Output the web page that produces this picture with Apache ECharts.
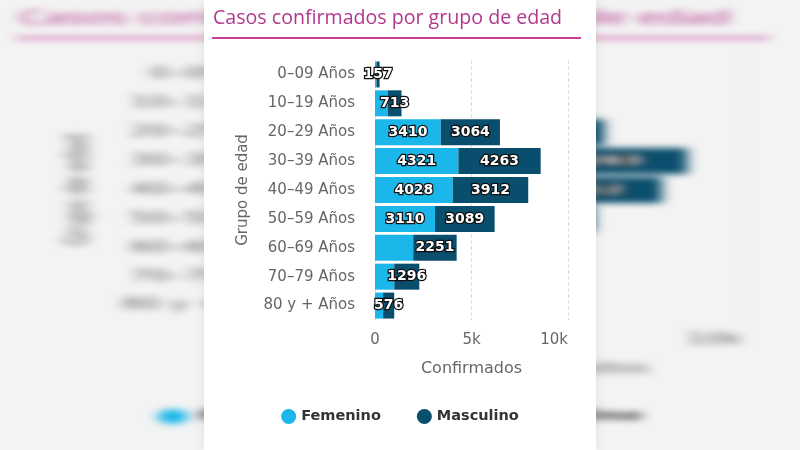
<!DOCTYPE html>
<html>
<head>
<meta charset="utf-8">
<script src="https://cdn.jsdelivr.net/npm/echarts@6/dist/echarts.min.js"></script>
<style>
  html, body { margin: 0; padding: 0; width: 800px; height: 450px; overflow: hidden; background: #f3f3f3; }
  #bg { position: absolute; left: 0; top: 0; width: 392px; height: 450px; transform-origin: 0 0; transform: scaleX(2.0408); filter: blur(3px); opacity: 1; }
  #fg { position: absolute; left: 204px; top: 0; width: 392px; height: 450px; background: #fff; box-shadow: 0 0 12px rgba(0,0,0,0.08); }
</style>
</head>
<body>
<div id="bg"></div>
<div id="fg"></div>
<script>
const titleText = 'Casos confirmados por grupo de edad';
const categories = ['0–09 Años', '10–19 Años', '20–29 Años', '30–39 Años', '40–49 Años', '50–59 Años', '60–69 Años', '70–79 Años', '80 y + Años'];
const femenino = [80, 660, 3410, 4321, 4028, 3110, 1980, 1000, 420];
const masculino = [157, 713, 3064, 4263, 3912, 3089, 2251, 1296, 576];
const seriesNames = ['Femenino', 'Masculino'];
const xTicks = { 0: '0', 5000: '5k', 10000: '10k' };

const FONT = '"Open Sans", sans-serif';
const DV = '"DejaVu Sans", sans-serif';
const labelStyle = {
  show: true, position: 'inside', color: '#fff', fontWeight: 'bold', fontSize: 14,
  fontFamily: DV, textBorderColor: '#111', textBorderWidth: 2.5
};

function makeOption() {
  return {
    animation: false,
    backgroundColor: 'transparent',
    title: {
      text: titleText, left: 4, top: 3,
      textStyle: { color: '#b3378c', fontSize: 19.6, fontWeight: 'normal', fontFamily: FONT }
    },
    graphic: [{
      type: 'line', shape: { x1: 8, y1: 38, x2: 377, y2: 38 },
      style: { stroke: '#c6409a', lineWidth: 2 }
    }],
    legend: {
      bottom: 21, left: 'center', icon: 'circle', itemWidth: 15, itemHeight: 15, itemGap: 36,
      textStyle: { color: '#333', fontSize: 14.5, fontWeight: 'bold', fontFamily: DV }
    },
    grid: { left: 171, right: 28, top: 60, bottom: 130 },
    xAxis: {
      type: 'value', min: 0, max: 10000, interval: 5000,
      name: 'Confirmados', nameLocation: 'middle', nameGap: 41,
      nameTextStyle: { color: '#666', fontSize: 16, fontFamily: DV },
      axisLine: { show: false }, axisTick: { show: false },
      axisLabel: { color: '#666', fontSize: 15, fontFamily: DV, margin: 13, alignMaxLabel: 'right',
        formatter: v => xTicks[v] !== undefined ? xTicks[v] : String(v) },
      splitLine: { show: true, lineStyle: { color: '#e0e0e0', type: 'dashed' } }
    },
    yAxis: {
      type: 'category', data: categories, inverse: true,
      name: 'Grupo de edad', nameLocation: 'middle', nameGap: 124, nameRotate: 90,
      nameTextStyle: { color: '#666', fontSize: 15, fontFamily: DV },
      axisLine: { show: false }, axisTick: { show: false },
      axisLabel: { color: '#666', fontSize: 15, fontFamily: DV, margin: 20 }
    },
    series: [
      {
        name: seriesNames[0], type: 'bar', stack: 'total', data: femenino, barCategoryGap: '10%',
        itemStyle: { color: '#1cb7ea' },
        label: Object.assign({}, labelStyle, { formatter: p => p.value >= 2500 ? String(p.value) : '' })
      },
      {
        name: seriesNames[1], type: 'bar', stack: 'total', data: masculino, barCategoryGap: '10%',
        itemStyle: { color: '#0a4e6d' },
        label: Object.assign({}, labelStyle, { formatter: p => String(p.value) })
      }
    ]
  };
}

const bg = echarts.init(document.getElementById('bg'), null, { renderer: 'canvas' });
bg.setOption(makeOption());
const fg = echarts.init(document.getElementById('fg'), null, { renderer: 'canvas' });
fg.setOption(makeOption());
</script>
</body>
</html>
